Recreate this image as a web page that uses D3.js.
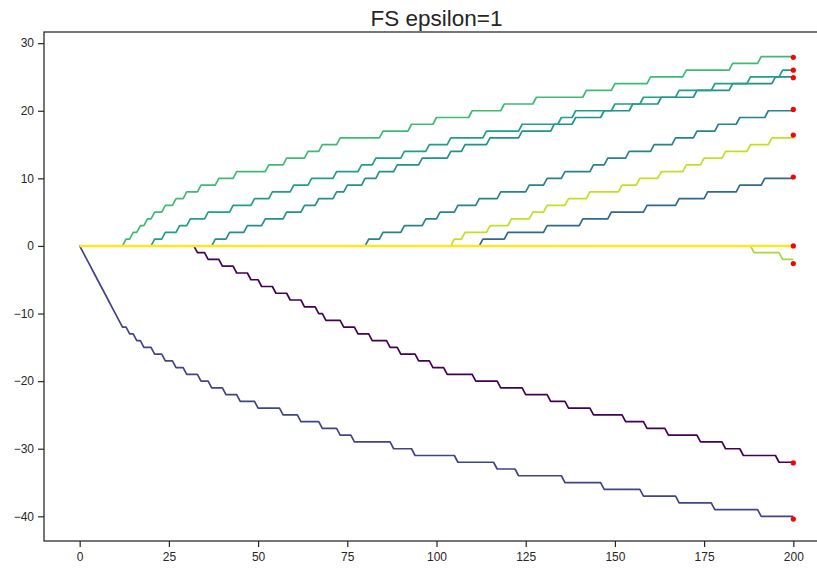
<!DOCTYPE html>
<html>
<head>
<meta charset="utf-8">
<script src="https://cdn.jsdelivr.net/npm/d3@7"></script>
<style>
  body { margin: 0; background: #ffffff; }
  svg { display: block; }
  text { font-family: "Liberation Sans", Arial, sans-serif; }
</style>
</head>
<body>
<svg id="chart" width="817" height="569"></svg>
<script>
// ---------- data ----------
const titleText = "FS epsilon=1";
const xTicks = [0, 25, 50, 75, 100, 125, 150, 175, 200];
const yTicks = [-40, -30, -20, -10, 0, 10, 20, 30];
const nIter = 200;

// iterations at which each coefficient moves by one unit (direction below)
const stepsA = [1,2,3,4,5,6,7,8,9,10,11,12,14,16,18,21,24,27,30,34,37,41,45,50,57,62,68,73,77,88,94,106,117,123,136,147,158,168,178,191];
const stepsB = [33,36,40,44,48,51,55,59,63,67,69,74,78,82,87,90,95,99,103,111,118,125,132,137,144,153,159,165,174,181,186,196];
const stepsC = [13,15,17,19,21,24,27,30,34,39,44,53,58,64,68,73,85,93,100,110,119,128,142,150,160,170,183,191];
const stepsD = [21,24,28,31,36,43,49,54,60,65,72,79,83,91,98,104,114,124,135,139,150,158,168,178,188,197];
const stepsE = [38,42,47,52,58,63,67,72,75,80,84,89,96,104,108,115,124,133,139,147,155,163,173,183,195];
const stepsF = [81,85,91,97,101,106,112,118,126,131,136,144,148,154,161,167,173,179,185,193];
const stepsG = [105,108,115,121,127,131,137,143,152,157,163,170,175,181,188,194];
const stepsH = [113,120,131,141,149,159,168,176,185,192];
const stepsI = [];
const stepsJ = [189,197];

const seriesSteps = [stepsB, stepsA, stepsH, stepsF, stepsE, stepsD, stepsC, stepsJ, stepsG, stepsI];
const seriesDir   = [-1, -1, 1, 1, 1, 1, 1, -1, 1, 1];
const seriesColor = ["#440154", "#414487", "#31688e", "#26828e", "#23908c", "#1f9e89", "#3dbb74", "#a5d83c", "#c2df23", "#fde725"];
// red markers at the final iteration
const finalDots = [-32.1, -40.4, 10.2, 20.2, 24.9, 26.0, 27.9, -2.6, 16.4, 0.0];

// ---------- layout ----------
const svg = d3.select("#chart");
const pLeft = 44, pRight = 829, pTop = 32, pBottom = 541;
const x = d3.scaleLinear().domain([-10, 210]).range([pLeft, pRight]);
const y = d3.scaleLinear().domain([-43.65, 31.65]).range([pBottom, pTop]);

// build polyline points from step events
function buildPoints(steps, dir) {
  const pts = [[0, 0]];
  let v = 0;
  steps.forEach(t => {
    const last = pts[pts.length - 1];
    if (last[0] !== t - 1) pts.push([t - 1, v]);
    v += dir;
    pts.push([t, v]);
  });
  if (pts[pts.length - 1][0] !== nIter) pts.push([nIter, v]);
  return pts;
}

const line = d3.line().x(d => x(d[0])).y(d => y(d[1]));

const g = svg.append("g");
g.append("defs").append("clipPath").attr("id", "clip")
  .append("rect").attr("x", pLeft).attr("y", pTop).attr("width", pRight - pLeft).attr("height", pBottom - pTop);

const plot = g.append("g").attr("clip-path", "url(#clip)");
seriesSteps.forEach((s, i) => {
  plot.append("path")
    .attr("d", line(buildPoints(s, seriesDir[i])))
    .attr("fill", "none")
    .attr("stroke", seriesColor[i])
    .attr("stroke-width", i === 9 ? 2.6 : 1.7)
    .attr("stroke-linejoin", "round");
});
plot.selectAll("circle.dot").data(finalDots).enter().append("circle")
  .attr("class", "dot")
  .attr("cx", x(nIter)).attr("cy", d => y(d)).attr("r", 2.6)
  .attr("fill", "#ff0000");

// axes
const axColor = "#262626";
const xAxis = g.append("g").attr("transform", `translate(0,${pBottom})`)
  .call(d3.axisBottom(x).tickValues(xTicks).tickSize(6).tickPadding(5).tickFormat(d3.format("d")));
const yAxis = g.append("g").attr("transform", `translate(${pLeft},0)`)
  .call(d3.axisLeft(y).tickValues(yTicks).tickSize(6).tickPadding(4).tickFormat(d => d < 0 ? "\u2212" + Math.abs(d) : d));
[xAxis, yAxis].forEach(a => {
  a.select(".domain").remove();
  a.selectAll(".tick line").attr("stroke", axColor).attr("stroke-width", 1.2);
  a.selectAll(".tick text").attr("fill", axColor).style("font-size", "12px")
    .style("font-family", "'Liberation Sans', Arial, sans-serif");
});

// frame (all four spines)
g.append("rect").attr("x", pLeft).attr("y", pTop).attr("width", pRight - pLeft).attr("height", pBottom - pTop)
  .attr("fill", "none").attr("stroke", axColor).attr("stroke-width", 1.25);

// title
svg.append("text").attr("x", (pLeft + pRight) / 2).attr("y", 26)
  .attr("text-anchor", "middle").attr("fill", axColor)
  .style("font-size", "22.5px").text(titleText);
</script>
</body>
</html>
